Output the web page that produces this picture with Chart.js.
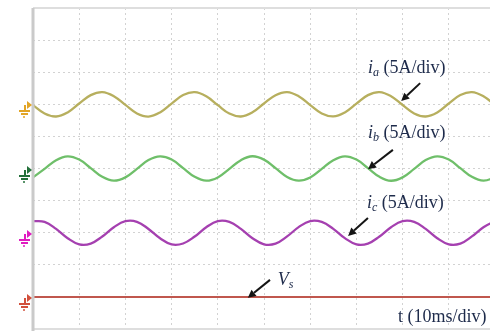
<!DOCTYPE html>
<html>
<head>
<meta charset="UTF-8">
<title>Three-phase currents</title>
<script src="https://cdn.jsdelivr.net/npm/chart.js@4/dist/chart.umd.min.js"></script>
<style>
  html, body { margin: 0; padding: 0; background: #fff; overflow: hidden; }
  #wrap { width: 500px; height: 331px; }
</style>
</head>
<body>
<div id="wrap"><canvas id="scope" width="500" height="331"></canvas></div>
<script>
// time base (ms), one sample every 2.5 ms
const time = [0, 2.5, 5, 7.5, 10, 12.5, 15, 17.5, 20, 22.5, 25, 27.5, 30, 32.5, 35, 37.5,
  40, 42.5, 45, 47.5, 50, 52.5, 55, 57.5, 60, 62.5, 65, 67.5, 70, 72.5, 75, 77.5,
  80, 82.5, 85, 87.5, 90, 92.5, 95, 97.5, 100];

// phase currents (A)
const ia = [-0.12, -1.43, -1.90, -1.26, 0.12, 1.43, 1.90, 1.26,
  -0.10, -1.42, -1.91, -1.27, 0.11, 1.44, 1.89, 1.25,
  -0.13, -1.44, -1.90, -1.25, 0.13, 1.42, 1.91, 1.27,
  -0.12, -1.43, -1.89, -1.26, 0.10, 1.43, 1.90, 1.26,
  -0.11, -1.42, -1.90, -1.27, 0.12, 1.44, 1.90, 1.25, -0.12];
const ib = [-1.39, -0.06, 1.30, 1.90, 1.39, 0.06, -1.30, -1.90,
  -1.38, -0.05, 1.31, 1.89, 1.40, 0.07, -1.29, -1.90,
  -1.39, -0.06, 1.30, 1.91, 1.38, 0.05, -1.31, -1.89,
  -1.40, -0.07, 1.29, 1.90, 1.39, 0.06, -1.30, -1.91,
  -1.38, -0.06, 1.31, 1.90, 1.39, 0.05, -1.30, -1.90, -1.39];
const ic = [1.81, 1.69, 0.59, -0.86, -1.81, -1.69, -0.59, 0.86,
  1.80, 1.70, 0.58, -0.87, -1.82, -1.68, -0.60, 0.85,
  1.81, 1.69, 0.59, -0.86, -1.80, -1.70, -0.58, 0.87,
  1.82, 1.68, 0.60, -0.85, -1.81, -1.69, -0.59, 0.86,
  1.80, 1.69, 0.59, -0.86, -1.81, -1.70, -0.58, 0.86, 1.81];
// supply voltage trace (flat)
const vs = [0, 0, 0, 0, 0, 0, 0, 0, 0, 0, 0, 0, 0, 0, 0, 0, 0, 0, 0, 0, 0,
  0, 0, 0, 0, 0, 0, 0, 0, 0, 0, 0, 0, 0, 0, 0, 0, 0, 0, 0, 0];

const AMPS_PER_DIV = 5;
// channel ground levels on screen (div)
const channels = [
  { name: 'ia', values: ia, level: 2, color: '#b7af5e', mark: '#e2a526' },
  { name: 'ib', values: ib, level: 0, color: '#6fbf6a', mark: '#23703a' },
  { name: 'ic', values: ic, level: -2, color: '#a540b0', mark: '#e01cc0' },
  { name: 'Vs', values: vs, level: -4, color: '#c0574e', mark: '#d2503c' }
];

const datasets = channels.map(ch => ({
  label: ch.name,
  data: time.map((t, i) => ({ x: t, y: ch.level + ch.values[i] / AMPS_PER_DIV })),
  borderColor: ch.color,
  borderWidth: ch.name === 'Vs' ? 2 : 2.3,
  pointRadius: 0,
  tension: 0.4,
  fill: false
}));

// labels and arrows, in data units (ms, div)
const notes = [
  { main: 'i', sub: 'a', rest: ' (5A/div)', at: [72.5, 2.98], tail: [83.8, 2.66], tip: [79.7, 2.10] },
  { main: 'i', sub: 'b', rest: ' (5A/div)', at: [72.5, 0.95], tail: [77.9, 0.58], tip: [72.5, -0.02] },
  { main: 'i', sub: 'c', rest: ' (5A/div)', at: [72.3, -1.23], tail: [72.5, -1.54], tip: [68.2, -2.10] },
  { main: 'V', sub: 's', rest: '', at: [53.0, -3.63], tail: [51.3, -3.47], tip: [46.5, -4.03] },
  { main: '', sub: '', rest: 't (10ms/div)', at: [79.0, -4.78] }
];

const scopeDecor = {
  id: 'scopeDecor',
  afterDatasetsDraw(chart) {
    const { ctx, chartArea: a, scales: { x, y } } = chart;
    ctx.save();
    // frame
    ctx.strokeStyle = '#dedede';
    ctx.lineWidth = 2;
    ctx.beginPath();
    ctx.moveTo(a.left, a.top); ctx.lineTo(a.right, a.top);
    ctx.moveTo(a.left, a.bottom); ctx.lineTo(a.right, a.bottom);
    ctx.stroke();
    ctx.strokeStyle = '#cacaca';
    ctx.lineWidth = 3;
    ctx.beginPath();
    ctx.moveTo(a.left, a.top); ctx.lineTo(a.left, a.bottom + 4);
    ctx.stroke();

    // ground markers
    ctx.lineWidth = 2;
    channels.forEach(ch => {
      const py = Math.round(y.getPixelForValue(ch.level));
      const px = a.left - 1;
      ctx.strokeStyle = ch.mark;
      ctx.fillStyle = ch.mark;
      ctx.beginPath();
      ctx.moveTo(px, py + 1); ctx.lineTo(px - 5, py - 3); ctx.lineTo(px - 5, py + 5); ctx.closePath();
      ctx.fill();
      ctx.beginPath();
      ctx.moveTo(px - 7, py + 1); ctx.lineTo(px - 7, py + 7);
      ctx.moveTo(px - 13, py + 7); ctx.lineTo(px - 2, py + 7);
      ctx.moveTo(px - 11, py + 10); ctx.lineTo(px - 4, py + 10);
      ctx.stroke();
      ctx.beginPath();
      ctx.arc(px - 8, py + 13, 1, 0, Math.PI * 2);
      ctx.fill();
    });

    // labels
    ctx.fillStyle = '#1e2b4b';
    ctx.textBaseline = 'alphabetic';
    notes.forEach(n => {
      let tx = x.getPixelForValue(n.at[0]);
      const ty = y.getPixelForValue(n.at[1]);
      if (n.main) {
        ctx.font = 'italic 18px "Liberation Serif", serif';
        ctx.fillText(n.main, tx, ty);
        tx += ctx.measureText(n.main).width;
        ctx.font = 'italic 12px "Liberation Serif", serif';
        ctx.fillText(n.sub, tx, ty + 3);
        tx += ctx.measureText(n.sub).width;
      }
      ctx.font = '18px "Liberation Serif", serif';
      ctx.fillText(n.rest, tx, ty);

      if (n.tail) {
        const x0 = x.getPixelForValue(n.tail[0]), y0 = y.getPixelForValue(n.tail[1]);
        const x1 = x.getPixelForValue(n.tip[0]), y1 = y.getPixelForValue(n.tip[1]);
        const ang = Math.atan2(y1 - y0, x1 - x0);
        const hl = 8, hw = 4;
        const bx = x1 - hl * Math.cos(ang), by = y1 - hl * Math.sin(ang);
        ctx.strokeStyle = '#151515';
        ctx.fillStyle = '#151515';
        ctx.lineWidth = 2;
        ctx.beginPath();
        ctx.moveTo(x0, y0); ctx.lineTo(bx, by);
        ctx.stroke();
        ctx.beginPath();
        ctx.moveTo(x1, y1);
        ctx.lineTo(bx + hw * Math.sin(ang), by - hw * Math.cos(ang));
        ctx.lineTo(bx - hw * Math.sin(ang), by + hw * Math.cos(ang));
        ctx.closePath();
        ctx.fill();
        ctx.fillStyle = '#1e2b4b';
      }
    });
    ctx.restore();
  }
};

new Chart(document.getElementById('scope'), {
  type: 'line',
  data: { datasets },
  options: {
    responsive: false,
    animation: false,
    layout: { padding: { left: 33, right: 5, top: 8, bottom: 2 } },
    plugins: { legend: { display: false }, tooltip: { enabled: false } },
    scales: {
      x: {
        type: 'linear', min: 0, max: 100,
        ticks: { display: false, stepSize: 10 },
        grid: { color: '#d2d2d2', lineWidth: 1, drawTicks: false },
        border: { display: false, dash: [2, 3] }
      },
      y: {
        min: -5, max: 5,
        ticks: { display: false, stepSize: 1 },
        grid: { color: '#d2d2d2', lineWidth: 1, drawTicks: false },
        border: { display: false, dash: [2, 3] }
      }
    }
  },
  plugins: [scopeDecor]
});
</script>
</body>
</html>
